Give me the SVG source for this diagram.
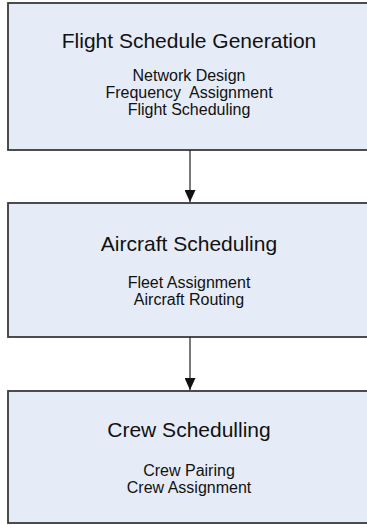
<svg xmlns="http://www.w3.org/2000/svg" width="367" height="525" viewBox="0 0 367 525">
<defs>
<style>
.box{fill:#E6ECF7;stroke:#3a3a3a;stroke-width:1.8}
.title{font-family:"Liberation Sans",Arial,sans-serif;font-size:21px;fill:#111;text-anchor:middle}
.sub{font-family:"Liberation Sans",Arial,sans-serif;font-size:16px;fill:#111;text-anchor:middle}
.conn{stroke:#222;stroke-width:1.2;fill:none}
</style>
<marker id="arr" viewBox="0 0 12 11" refX="12" refY="5.5" markerWidth="12" markerHeight="11" markerUnits="userSpaceOnUse" orient="auto">
<path d="M0,0 L12,5.5 L0,11 Z" fill="#111"/>
</marker>
</defs>
<rect width="367" height="525" fill="#fff"/>
<g id="node-flight-schedule-generation">
<rect class="box" x="8" y="3" width="370" height="147"/>
<text class="title" x="189" y="48">Flight Schedule Generation</text>
<text class="sub" x="189" y="81">Network Design</text>
<text class="sub" x="189" y="98" xml:space="preserve">Frequency  Assignment</text>
<text class="sub" x="189" y="115">Flight Scheduling</text>
</g>
<g id="node-aircraft-scheduling">
<rect class="box" x="8" y="203" width="370" height="134"/>
<text class="title" x="189" y="251">Aircraft Scheduling</text>
<text class="sub" x="189" y="288">Fleet Assignment</text>
<text class="sub" x="189" y="305">Aircraft Routing</text>
</g>
<g id="node-crew-schedulling">
<rect class="box" x="8" y="391" width="370" height="132"/>
<text class="title" x="189" y="437">Crew Schedulling</text>
<text class="sub" x="189" y="476">Crew Pairing</text>
<text class="sub" x="189" y="493">Crew Assignment</text>
</g>
<g id="connectors">
<line class="conn" x1="190" y1="150" x2="190" y2="202" marker-end="url(#arr)"/>
<line class="conn" x1="190" y1="337" x2="190" y2="390" marker-end="url(#arr)"/>
</g>
</svg>
